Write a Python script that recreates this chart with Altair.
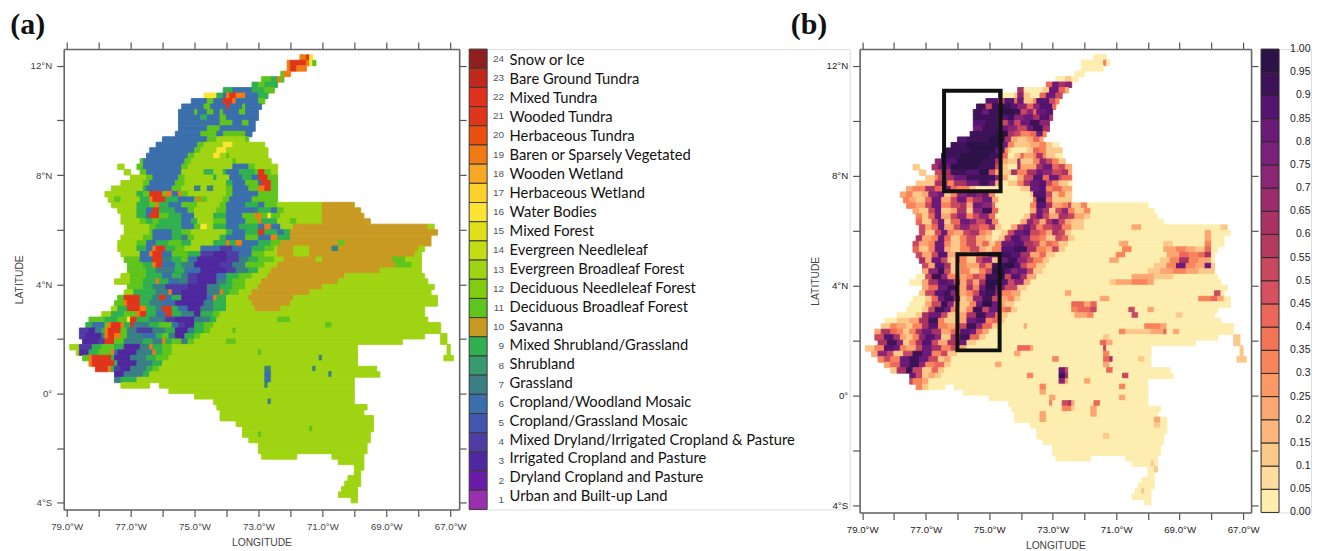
import re
import altair as alt
import pandas as pd

# Land-use rows, north to south. Each row: "<tenths of a degree east of 79W><class>" run starts, "." = no land.
ROWS_A = [
"73o 75r 76y 77.",
"69o 70r 75o 76y 77m 78.",
"69o 70r 72o 75.",
"67m 68o 70.",
"61m 64d 66o 67m 68.",
"58d 60m 62d 66.",
"49d 52b 58d 62m 65.",
"43y 47d 49b 50o 51r 53o 56b 60d 63.",
"39b 44m 46b 49r 52o 53b 60m 62.",
"36b 43m 45b 50r 51b 55m 56b 61.",
"35b 40m 41b 44m 46b 48m 49b 54m 56b 60.",
"35b 42d 44b 48m 50b 60.",
"35b 48m 52b 55m 57b 59.",
"35b 44m 48b 59.",
"34b 42m 47b 49m 56b 58.",
"30b 44m 47g 56m 57.",
"28b 41m 43g 49y 52g 62.",
"26b 40m 42g 47y 50g 63.",
"25b 38m 40g 46y 48g 50m 51g 63.",
"23m 24b 37m 39g 52m 53g 64.",
"16g 18. 22m 24b 36m 38g 52b 57m 59g 66.",
"18g 20. 23m 25b 36g 43d 46g 49d 50b 54d 59m 60r 62m 64g 66.",
"20g 25m 27b 35m 37g 46d 47g 51b 55d 58b 60r 63m 66.",
"17g 24m 26b 34m 37g 50d 52b 56m 60b 61r 64m 66.",
"14g 24d 25b 33m 36g 40t 42g 44t 46g 50m 52b 57m 60o 62r 64m 66.",
"12g 22d 24m 26r 30m 31o 33b 35o 36m 38g 50m 52b 60m 66.",
"13g 15m 17g 23d 26o 27r 31d 35b 40m 41o 42m 44g 49m 51b 58m 66.",
"14g 22d 26m 28o 29d 32b 36m 41g 48m 50b 56d 60b 62m 66g 80s 90.",
"16g 22d 25b 27r 29d 34b 38m 40g 47m 50b 59t 60d 64b 66m 68g 80s 92.",
"17g 22d 25b 26r 29m 32d 36b 40g 46d 50b 55m 59o 61m 63y 64m 67g 80s 93.",
"17g 23m 25d 27m 29d 36b 39d 41g 46m 50b 56m 60o 61d 66g 70m 72g 80s 95.",
"18g 26m 28d 36b 40m 42y 44g 46d 50b 54d 60b 62o 64b 67g 71s 113g 115.",
"18g 26m 27b 33d 36m 39g 50d 52b 56d 60r 62d 66b 68d 70s 116.",
"17g 24m 27b 33d 36t 38m 40g 48d 50b 56m 60b 64o 66d 70s 114.",
"16g 22m 25b 28d 32m 36d 39g 46d 50o 51d 53o 55b 60d 64m 67s 85m 87s 114.",
"16g 22d 25b 27o 28r 31d 34m 37g 42b 48v 52b 58d 62m 65g 66s 71g 76s 83t 85s 110g 112.",
"17g 23b 26o 27r 30b 33m 38d 42v 46p 50v 54b 58m 62g 66s 71g 76s 109g 111.",
"18m 23b 27r 30t 33d 36m 38b 41p 50v 54t 57d 60m 65g 68s 78g 80s 102m 106g 111.",
"19m 24d 27o 28r 30b 34d 36t 40p 48v 52t 56m 62g 66s 103m 108g 111.",
"19m 25d 28t 34d 37b 42p 50v 53t 57d 60g 64s 98g 111.",
"17g 20m 25d 30b 33d 36t 38v 41p 47b 50d 54m 58g 63s 87g 112.",
"15g 20m 24d 28o 29d 32b 35t 38v 41p 47t 50d 52m 56g 61s 85g 113.",
"19m 24d 27t 31v 38p 44t 48d 52m 56g 60s 80g 115.",
"18g 21d 28t 32o 33v 36p 44t 48o 49d 51m 54g 58s 76g 114.",
"16m 18r 23d 27t 29r 31b 33d 36p 44b 46o 47d 50g 57s 71g 116.",
"15m 18o 19r 23d 26t 30b 34p 43t 46d 50g 58s 70g 116.",
"14g 16d 19r 23o 25d 28t 30r 33d 35b 38p 42t 46d 50g 59s 67g 112.",
"11g 14d 18m 22o 23r 25d 28b 31r 33d 36t 40p 42d 46m 48g 112.",
"7m 12d 16m 19y 20r 22d 26t 31v 34p 40t 45d 47g 66m 70g 113.",
"6d 8b 12m 13o 14r 17o 18d 20r 21t 26d 29m 33b 35v 37p 40d 43m 46g 81m 83g 117.",
"4v 7p 9t 11d 12o 13r 17m 19t 22v 27t 31d 34p 38t 40d 43m 45g 52m 53g 117.",
"4v 6p 11t 12o 13r 15o 17m 19t 24b 28d 30m 32t 34p 37d 40m 42g 112. 117g 119.",
"5p 10v 12r 15m 18t 24d 27t 30o 31d 33m 36t 38m 40g 50m 53g 105. 117g 119.",
"1g 4v 8d 11m 15d 18p 23t 26o 27d 30m 33g 91. 119g 120.",
"3g 4p 7d 10m 14o 15b 16p 22t 27o 28d 30m 33g 60m 61g 91. 119g 120.",
"5m 7o 8r 14d 15p 20t 25d 28m 32g 79t 80g 91. 118g 121.",
"7o 8r 15d 16p 22t 27d 30g 91.",
"9r 13o 14d 15v 17p 20t 25d 27m 29g 62t 64g 77t 78g 97.",
"15p 18t 24d 26g 62b 64g 82t 83g 98.",
"15t 17d 22g 62b 64g 90.",
"17g 26. 29g 62t 63g 90.",
"32g 90.",
"40g 90.",
"46g 63t 64g 90.",
"47g 94.",
"48g 93.",
"48g 96.",
"53g 96.",
"55g 76m 77g 96.",
"55g 60m 61g 95.",
"57g 95.",
"60g 94.",
"60g 94.",
"61g 72. 83g 93.",
"85g 93.",
"90g 93.",
"90g 92.",
"88g 92.",
"87g 92.",
"86g 91.",
"85g 91.",
"89g 91.",
]

# Probability rows, same grid. Letters a..t are the twenty colour-bar bins, bottom to top.
ROWS_B = [
"73a 77.",
"69a 76g 77a 78.",
"69a 76.",
"67a 70.",
"61a 64c 66a 68.",
"58i 60q 62m 64o 66.",
"49m 51a 57c 59q 62i 64e 65.",
"43r 44a 48c 49o 51c 53a 56i 58q 61k 63.",
"39r 43k 45r 48i 49q 51c 54g 55r 59k 61g 62.",
"36s 39k 41s 47r 49o 52i 54o 56r 60i 61.",
"35s 38q 40s 44t 48s 50k 52o 54i 55q 58r 60.",
"35s 44r 46s 48o 51q 54m 56r 59m 60.",
"35r 39s 44k 46q 48k 50q 53s 56o 59.",
"35q 38s 44q 46o 49k 52q 54s 57m 59.",
"34s 42t 46m 48k 50g 53i 55q 57g 58.",
"30r 33s 40t 45m 47e 49c 52e 54i 56e 57.",
"28s 33t 44q 46g 48c 53e 56g 58c 60a 62.",
"26s 34t 42r 45g 46c 47a 52c 54i 56g 58c 63.",
"25s 31t 40s 44i 46a 48c 50i 51e 54g 55m 57g 58c 61a 63.",
"23o 25r 30t 38s 42m 44e 46c 49m 50c 54g 56o 58k 60g 62c 64.",
"16c 18. 22m 24q 28t 37s 42k 44c 46a 49m 50e 55m 57q 60i 62k 64e 66.",
"18c 20. 23k 25m 28s 33r 37t 40k 42e 44c 47m 49g 52m 55q 57o 60k 63m 65e 66.",
"20c 23g 24k 26m 29q 33s 42o 44e 46a 49e 51k 54r 57i 59q 62k 63i 66.",
"17c 23m 27g 29m 33q 37s 40q 42e 44a 46c 49g 51m 53q 56r 58k 60g 62c 65a 66.",
"14e 16g 20m 23i 26q 28i 30g 34c 36a 50c 53q 56r 58g 60i 63e 66.",
"12e 14g 16c 19e 21o 24q 26c 28g 30o 33q 36o 38q 40g 42a 53c 54r 58k 60c 62g 64c 66.",
"13g 15e 17c 20i 22q 25e 28k 30q 33i 35m 38q 41e 43a 54i 55s 58i 60c 66.",
"14g 17e 20k 22q 25g 28k 31m 33e 35q 38o 41i 42a 53g 55r 58m 60e 63g 65k 66c 69g 71a 90.",
"16e 18c 21k 23q 25c 28e 30m 33c 35o 38s 41i 43a 53e 55q 57m 59c 61k 63o 65g 67c 70g 72a 92.",
"17g 19c 21i 23q 25e 28k 30o 33g 35k 37o 40i 42a 51c 53m 55q 57k 59e 62m 65k 67e 70c 72a 93.",
"17i 19c 22k 24q 26c 28i 31q 34o 36k 39q 41g 43a 50e 52o 54k 56e 58m 60q 62k 64e 66c 70a 95.",
"18k 20e 22i 24q 26e 29k 31o 34k 37i 40m 42c 44a 47e 49m 51q 53m 55g 57k 60m 63g 66c 70a 85e 88a 113c 115.",
"18k 20c 23k 25q 27g 29e 32k 34m 37g 39e 41a 44c 46k 48q 51r 53k 56i 58e 60m 62k 64c 66a 108e 110a 116.",
"17m 19e 22g 24q 26i 28c 31g 33k 36e 39c 41a 43c 45m 47r 50o 53i 56g 58c 61k 63i 65c 67a 108e 110a 114.",
"16k 18e 21g 23q 26g 28c 31g 33k 36e 38i 40c 42g 44q 48r 51m 54k 56e 58i 60g 62c 65a 81e 84a 95c 98a 108g 110a 114.",
"16i 18c 21g 23q 26e 28c 31g 34k 37e 39c 41g 44r 48s 52m 55g 58e 60k 62c 64a 82g 85a 95e 99g 102e 105c 108i 110a 112.",
"17k 19e 22k 24r 27e 30g 33c 36i 38k 40o 43s 47r 50m 53e 56i 58c 61a 80g 83a 96e 100i 103g 106i 108m 110a 111.",
"18m 20e 22q 25k 27c 30g 33c 36k 38o 41c 43q 46s 49o 52k 54g 57c 59a 78e 81a 94c 97g 100m 103g 106e 110a 111.",
"19k 21e 23r 26m 28c 31g 33e 37k 39g 41s 45t 48r 50k 52g 55c 58a 92c 96g 99q 102g 105e 108q 110c 111.",
"19e 21o 24s 26k 28c 31g 34c 37g 39k 41t 45r 47o 49q 52k 54c 57a 90c 94e 98g 102e 106c 111.",
"17a 20k 22s 25o 27g 30e 33g 35k 37i 39s 43t 45k 47r 50m 52e 55a 85e 92c 98a 112.",
"15a 19e 21m 24r 27q 29k 31e 33k 35e 37m 39t 43r 46k 48o 51e 53a 78c 80e 85g 90e 92a 113.",
"19e 21i 24q 27s 30e 33m 35g 37q 39t 42q 45k 49c 52a 115.",
"18c 20k 23r 26s 28o 30e 33g 35k 37r 39s 42o 44g 47e 50a 64e 66a 111k 113a 114.",
"16a 20c 22i 24q 26s 29m 31c 33e 35o 38s 41k 43e 46g 48c 50a 75e 78a 106g 110i 112e 114a 116.",
"15a 20e 22k 25s 27o 29e 31c 34g 36q 38t 41q 43e 45c 48a 66i 70e 72i 74a 116.",
"14a 19c 21k 23s 26q 28g 30c 33g 35s 38k 40q 43g 45i 47c 49a 66g 68i 72k 74a 84k 86a 90e 92a 112.",
"11a 17c 19m 21q 25k 27c 30e 33m 36s 39o 42i 44c 46a 67e 71g 73a 85k 87a 99c 101a 111.",
"7a 11c 15e 18m 21s 24g 26c 30e 33q 36r 39g 41i 43c 45a 113.",
"6c 9g 11e 14c 16g 19m 21r 24g 27e 30k 33s 36o 38i 41c 43a 51e 52a 89g 94e 96a 117.",
"4e 6m 9i 11g 13c 15g 17m 19q 22m 25e 28i 31r 34q 36i 38e 40a 81g 83c 91e 95i 96a 98e 100a 117.",
"4k 7r 10m 12e 14c 16g 18o 20r 23o 25c 28m 31s 34i 37c 39a 76c 78a 112. 117c 119.",
"5m 8s 11o 13c 15g 17m 19r 22k 24e 27m 30q 33c 36a 75i 77e 79a 105. 117c 119.",
"1c 4g 7r 10q 12g 14e 17k 19q 22m 25g 28k 30e 33a 49i 53e 54a 76k 77a 91. 119c 120.",
"3e 5o 8k 10c 13k 16s 19q 22g 25k 27c 30a 48e 50a 76g 78a 91. 119c 120.",
"5g 7k 9g 12q 15s 18q 21k 24c 26e 28a 60g 62a 76i 78m 79a 87c 89a 91. 118c 121.",
"7e 9i 12q 15s 18o 20g 23i 26c 28a 42e 44a 76e 78a 91.",
"9c 11m 14s 16k 19c 22i 24c 26a 62q 64k 65a 77i 79a 97.",
"15q 17k 19c 21e 23c 25a 52g 54a 62s 64m 65a 82k 84a 98.",
"15k 16g 19e 21a 62o 64e 65a 70e 72a 90.",
"17g 19c 21a 26. 29a 56g 58a 81g 83a 90.",
"32a 56e 58a 90.",
"40a 59e 61a 81e 83a 90.",
"46a 59g 60a 63k 65m 66e 67a 73i 75a 90.",
"47a 63g 66c 67a 72e 74a 94.",
"48a 56e 58a 72e 74a 93.",
"48a 56e 58a 92e 94a 96.",
"53a 92c 94a 96.",
"55a 96.",
"55a 76c 78a 95.",
"57a 95.",
"60a 94.",
"60a 94.",
"61a 72. 83a 93.",
"85a 91c 92a 93.",
"90a 92c 93.",
"90a 92.",
"88a 92.",
"87a 92.",
"86a 88c 89a 91.",
"85a 91.",
"89a 91.",
]

LU_LABELS = [
"Snow or Ice", "Bare Ground Tundra", "Mixed Tundra", "Wooded Tundra", "Herbaceous Tundra",
"Baren or Sparsely Vegetated", "Wooden Wetland", "Herbaceous Wetland", "Water Bodies", "Mixed Forest",
"Evergreen Needleleaf", "Evergreen Broadleaf Forest", "Deciduous Needleleaf Forest",
"Deciduous Broadleaf Forest", "Savanna", "Mixed Shrubland/Grassland", "Shrubland", "Grassland",
"Cropland/Woodland Mosaic", "Cropland/Grassland Mosaic", "Mixed Dryland/Irrigated Cropland & Pasture",
"Irrigated Cropland and Pasture", "Dryland Cropland and Pasture", "Urban and Built-up Land",
]
LU_CODES = list(range(24, 0, -1))
LU_COLORS = ["#8e1f1f", "#c0281c", "#e03020", "#e0351a", "#ea5010", "#f27a14", "#f9a825", "#fdd02a",
             "#fbe532", "#e0e01a", "#c3dc14", "#9fd412", "#82cc10", "#5fc41c", "#c89a22", "#31b04f",
             "#39996f", "#397f85", "#3a6fac", "#4455af", "#4f3ca4", "#4f28a0", "#6a1ca8", "#9a2fb0"]
LETTER_TO_CODE = dict(g=13, m=11, d=9, t=7, b=6, v=4, p=3, r=21, o=19, y=16, s=10)

PROB_COLORS = ["#fdeeb0", "#fedb9f", "#fdc98a", "#fcb67d", "#fca672", "#fc9866", "#f9835a", "#f47458",
               "#ec6759", "#d75060", "#c84860", "#b43a60", "#a83264", "#9b2b6b", "#8b2574", "#7a1f7a",
               "#6b1a78", "#541470", "#3e1258", "#2d1248"]
PROB_LABELS = ["0.00", "0.05", "0.1", "0.15", "0.2", "0.25", "0.3", "0.35", "0.4", "0.45", "0.5",
               "0.55", "0.6", "0.65", "0.7", "0.75", "0.8", "0.85", "0.9", "0.95", "1.00"]

BOX_WEST = [-76.42, -76.0]
BOX_EAST = [-74.64, -74.67]
BOX_NORTH = [11.08, 5.13]
BOX_SOUTH = [7.42, 1.63]

LON_TICKS = list(range(-79, -66))
LAT_TICKS = list(range(-4, 13, 2))
LON_DOMAIN_A = [-79.09, -66.72]
LAT_DOMAIN_A = [-4.24, 12.61]
LON_DOMAIN_B = [-79.08, -66.75]
LAT_DOMAIN_B = [-4.27, 12.6]


def decode(rows, mapper):
    out = []
    for j, row in enumerate(rows, start=1):
        toks = re.findall(r"(\d+)([a-z.])", row)
        for (a, c), (b, _) in zip(toks, toks[1:]):
            if c == ".":
                continue
            north = 12.6 - 0.2 * j
            out.append(dict(x0=-79 + int(a) / 10, x1=-79 + int(b) / 10,
                            y0=north, y1=north - 0.2, c=mapper(c)))
    return pd.DataFrame(out)


LON_EXPR = "abs(datum.value)%2==1 ? format(abs(datum.value),'.1f')+'°W' : ''"
LAT_EXPR = ("datum.value%4!=0 ? '' : datum.value==0 ? '0°' : "
            "abs(datum.value)+(datum.value>0?'°N':'°S')")


def map_panel(df, color_scale, lon_dom, lat_dom, w, h, tag, tag_x, tag_y, axis_color, extra=None):
    common = dict(tickSize=7, tickColor="#555555", tickWidth=1.2, domainColor="#666666", domainWidth=1.6,
                  grid=False, labelColor=axis_color, labelFont="Liberation Sans", labelFontSize=9.7,
                  titleFont="Liberation Sans", titleFontSize=10.3, titleFontWeight="normal",
                  titleColor="#444444", labelOverlap=False)
    xs = alt.Scale(domain=lon_dom, nice=False, zero=False)
    ys = alt.Scale(domain=lat_dom, nice=False, zero=False)
    base = alt.Chart(df).mark_rect(strokeWidth=0.9).encode(
        x=alt.X("x0:Q", scale=xs, axis=alt.Axis(values=LON_TICKS, labelExpr=LON_EXPR, title="LONGITUDE",
                                                titlePadding=6, labelPadding=5, **common)),
        x2="x1:Q",
        y=alt.Y("y0:Q", scale=ys, axis=alt.Axis(values=LAT_TICKS, labelExpr=LAT_EXPR, title="LATITUDE",
                                                titlePadding=6, labelPadding=5, **common)),
        y2="y1:Q",
        fill=alt.Fill("c:N", scale=color_scale, legend=None),
        stroke=alt.Stroke("c:N", scale=color_scale, legend=None),
    )
    frame = alt.Chart(df.head(1)).mark_rect(opacity=0).encode(
        x=alt.X("x0:Q", scale=xs, axis=alt.Axis(values=LON_TICKS, orient="top", labels=False, title=None, **common)),
        x2="x1:Q",
        y=alt.Y("y0:Q", scale=ys, axis=alt.Axis(values=LAT_TICKS, orient="right", labels=False, title=None, **common)),
        y2="y1:Q",
    )
    tag_mark = alt.Chart(pd.DataFrame({"t": [tag]})).mark_text(
        font="Liberation Serif", fontWeight="bold", fontSize=30, align="left", baseline="alphabetic", color="#111111"
    ).encode(x=alt.value(tag_x), y=alt.value(tag_y), text="t:N")
    layers = [base, frame, tag_mark]
    if extra is not None:
        layers.insert(2, extra(xs, ys))
    return alt.layer(*layers).resolve_axis(x="independent", y="independent").properties(width=w, height=h)


scale_a = alt.Scale(domain=LU_CODES, range=LU_COLORS)
codes_b = list("abcdefghijklmnopqrst")
scale_b = alt.Scale(domain=codes_b, range=PROB_COLORS)

df_a = decode(ROWS_A, lambda c: LETTER_TO_CODE[c])
df_b = decode(ROWS_B, lambda c: c)
df_box = pd.DataFrame(dict(x0=BOX_WEST, x1=BOX_EAST, y0=BOX_NORTH, y1=BOX_SOUTH))


def boxes(xs, ys):
    return alt.Chart(df_box).mark_rect(fillOpacity=0, fill="white", stroke="#111111", strokeWidth=4).encode(
        x=alt.X("x0:Q", scale=xs, axis=None), x2="x1:Q", y=alt.Y("y0:Q", scale=ys, axis=None), y2="y1:Q")


map_a = map_panel(df_a, scale_a, LON_DOMAIN_A, LAT_DOMAIN_A, 396, 461, "(a)", -53.5, -15, "#444444")
map_b = map_panel(df_b, scale_b, LON_DOMAIN_B, LAT_DOMAIN_B, 392, 464, "(b)", -69, -15, "#222222", boxes)

# colour bar (a)
cb_a_df = pd.DataFrame(dict(code=LU_CODES, label=LU_LABELS))
cb_y = alt.Y("code:O", sort=LU_CODES, scale=alt.Scale(domain=LU_CODES, paddingInner=0, paddingOuter=0), axis=None)
cb_a_rect = alt.Chart(cb_a_df).mark_rect(stroke="#3a3a3a", strokeWidth=1).encode(
    x=alt.value(0), x2=alt.value(18), y=cb_y,
    fill=alt.Fill("code:N", scale=scale_a, legend=None))
cb_a_num = alt.Chart(cb_a_df).mark_text(align="right", baseline="middle", font="Liberation Sans", fontSize=10,
                                        color="#555555").encode(x=alt.value(35), y=cb_y, text="code:N")
cb_a_txt = alt.Chart(cb_a_df).mark_text(align="left", baseline="middle", font="Lato", fontSize=14.75,
                                        color="#111111").encode(
    x=alt.value(40.5),
    y=alt.Y("code:O", sort=LU_CODES, axis=None,
            scale=alt.Scale(type="point", domain=LU_CODES, range=[12, 449], padding=0)),
    text="label:N")
cb_a = alt.layer(cb_a_rect, cb_a_num, cb_a_txt).resolve_scale(y="independent").properties(width=381, height=461)

# colour bar (b)
cb_b_df = pd.DataFrame(dict(code=codes_b))
cb_b_lab = pd.DataFrame(dict(label=PROB_LABELS))
cb_b_rect = alt.Chart(cb_b_df).mark_rect(stroke="#2a2a2a", strokeWidth=1).encode(
    x=alt.value(0), x2=alt.value(18),
    y=alt.Y("code:O", sort=codes_b[::-1], scale=alt.Scale(domain=codes_b[::-1], paddingInner=0, paddingOuter=0), axis=None),
    fill=alt.Fill("code:N", scale=scale_b, legend=None))
cb_b_txt = alt.Chart(cb_b_lab).mark_text(align="right", baseline="middle", font="Liberation Sans", fontSize=10.5,
                                         color="#222222").encode(
    x=alt.value(49.5),
    y=alt.Y("label:O", sort=PROB_LABELS[::-1], axis=None,
            scale=alt.Scale(type="point", domain=PROB_LABELS[::-1], range=[0, 464], padding=0)),
    text="label:N")
cb_b = alt.layer(cb_b_rect, cb_b_txt).resolve_scale(y="independent").properties(width=50, height=464)

chart = alt.hconcat(map_a, cb_a, map_b, cb_b, spacing=10, bounds="flush").resolve_scale(
    fill="independent", stroke="independent"
).properties(padding={"left": 1.8, "top": 0.75, "right": 0, "bottom": 0}).configure_view(
    stroke="transparent", strokeWidth=0).configure(background="white")

chart.save("out.html", embed_options={"renderer": "svg", "actions": False})
